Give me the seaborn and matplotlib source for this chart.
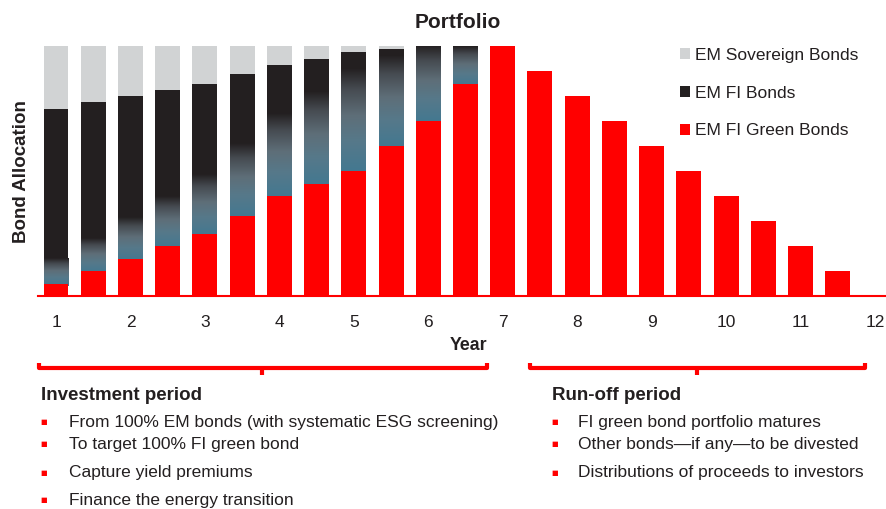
import numpy as np
import pandas as pd
import matplotlib
matplotlib.use("Agg")
import matplotlib.pyplot as plt
import seaborn as sns
from matplotlib.colors import LinearSegmentedColormap
from matplotlib.patches import Patch
from matplotlib.lines import Line2D

# ---------------- data ----------------
years = [1, 1.5, 2, 2.5, 3, 3.5, 4, 4.5, 5, 5.5, 6, 6.5,
         7, 7.5, 8, 8.5, 9, 9.5, 10, 10.5, 11, 11.5]
green = [5, 10, 15, 20, 25, 32, 40, 45, 50, 60, 70, 85,
         100, 90, 80, 70, 60, 50, 40, 30, 20, 10]
fi_bonds = [70, 67.5, 65, 62.5, 60, 57, 52.5, 50, 47.5, 39, 30, 15,
            0, 0, 0, 0, 0, 0, 0, 0, 0, 0]
sovereign = [25, 22.5, 20, 17.5, 15, 11, 7.5, 5, 2.5, 1, 0, 0,
             0, 0, 0, 0, 0, 0, 0, 0, 0, 0]
# level (in %) where the FI bond segment starts fading into the green colour
fade_start = [15, 23, 31.5, 39.5, 48.5, 61, 73, 82, 91, 96, 100, 100,
              0, 0, 0, 0, 0, 0, 0, 0, 0, 0]
xticks = [1, 2, 3, 4, 5, 6, 7, 8, 9, 10, 11, 12]
series_labels = ["EM Sovereign Bonds", "EM FI Bonds", "EM FI Green Bonds"]
invest_items = ["From 100% EM bonds (with systematic ESG screening)",
                "To target 100% FI green bond",
                "Capture yield premiums",
                "Finance the energy transition"]
runoff_items = ["FI green bond portfolio matures",
                "Other bonds\u2014if any\u2014to be divested",
                "Distributions of proceeds to investors"]

# ---------------- style ----------------
sns.set_theme(style="white")
plt.rcParams["font.family"] = ["Liberation Sans", "DejaVu Sans"]
TXT = "#231f20"
GREY = "#d1d3d4"
DARK = "#231f20"
RED = "#ff0000"

W, H = 887, 509
fig = plt.figure(figsize=(W / 100, H / 100), dpi=100)
ax = fig.add_axes([38 / W, 1 - 296 / H, (887 - 38) / W, (296 - 46) / H])

df = pd.DataFrame({"year": years, "green": green, "sov": sovereign, "fi": fi_bonds,
                   "fade": fade_start})
df["fi_top"] = df["green"] + df["fi"]
df["total"] = df["fi_top"] + df["sov"]

bw = 0.67
sns.barplot(data=df, x="year", y="total", native_scale=True, width=bw,
            color=GREY, saturation=1, linewidth=0, ax=ax, zorder=1)
n0 = len(ax.patches)
sns.barplot(data=df, x="year", y="fi_top", native_scale=True, width=bw,
            color=DARK, saturation=1, linewidth=0, ax=ax, zorder=1)
dark_patches = ax.patches[n0:]
sns.barplot(data=df, x="year", y="green", native_scale=True, width=bw,
            color=RED, saturation=1, linewidth=0, ax=ax, zorder=3)

# gradient (fading FI bonds into green bonds)
cmap = LinearSegmentedColormap.from_list(
    "fade", [(0.0, "#427891"), (0.3, "#56798a"), (0.55, "#5e6e78"),
             (0.8, "#464b51"), (1.0, "#231f20")])
grad = np.linspace(0, 1, 256).reshape(-1, 1)
for p, g, f, fi in zip(dark_patches, green, fade_start, fi_bonds):
    if fi <= 0 or f <= g:
        continue
    x0 = p.get_x()
    x1 = x0 + p.get_width()
    ax.imshow(grad, cmap=cmap, aspect="auto", origin="lower",
              extent=(x0, x1, g - 1, f), interpolation="bilinear", zorder=2)

ax.set_xlim(1 - 18 / 74.45, 12 + 12 / 74.45)
ax.set_ylim(0, 100)
ax.set_xticks(xticks)
ax.set_xticklabels([str(t) for t in xticks])
ax.set_yticks([])
ax.set_xlabel("")
ax.set_ylabel("")
for s in ["top", "right", "left"]:
    ax.spines[s].set_visible(False)
ax.spines["bottom"].set_color(RED)
ax.spines["bottom"].set_linewidth(1.5)
ax.tick_params(axis="x", length=0, pad=14, labelsize=12.5, labelcolor=TXT)

# legend
handles = [Patch(facecolor=c, edgecolor="none") for c in (GREY, DARK, RED)]
leg = fig.legend(handles, series_labels, loc="upper left",
                 bbox_to_anchor=(680 / W, 1 - 48 / H), frameon=False,
                 fontsize=12.5, handlelength=0.6, handleheight=0.6,
                 handletextpad=0.25, labelspacing=1.3, borderpad=0,
                 borderaxespad=0)
for t in leg.get_texts():
    t.set_color(TXT)

def fx(x):
    return x / W

def fy(y):
    return 1 - y / H

fig.text(fx(458), fy(22), "Portfolio", ha="center", va="center",
         fontsize=15, fontweight="bold", color=TXT)
fig.text(fx(22), fy(172), "Bond Allocation", ha="center", va="center",
         rotation=90, fontsize=13.5, fontweight="bold", color=TXT)
fig.text(fx(469), fy(345), "Year", ha="center", va="center",
         fontsize=12.8, fontweight="bold", color=TXT)

# brackets
def bracket(x0, x1, xm):
    kw = dict(color=RED, lw=3, solid_capstyle="butt", transform=fig.transFigure)
    fig.add_artist(Line2D([fx(x0), fx(x0), fx(x1), fx(x1)],
                          [fy(363), fy(368), fy(368), fy(363)], **kw))
    fig.add_artist(Line2D([fx(xm), fx(xm)], [fy(368), fy(375)], **kw))

bracket(39, 487, 262)
bracket(530, 865, 697)

# text blocks
fig.text(fx(41), fy(396), "Investment period", ha="left", va="center",
         fontsize=13.5, fontweight="bold", color=TXT)
fig.text(fx(552), fy(396), "Run-off period", ha="left", va="center",
         fontsize=13.5, fontweight="bold", color=TXT)
for y, s in zip([422, 444, 473, 500], invest_items):
    fig.text(fx(44), fy(y), "\u25a0", ha="center", va="center", fontsize=5,
             color=RED, family="DejaVu Sans")
    fig.text(fx(69), fy(y), s, ha="left", va="center", fontsize=12.5, color=TXT)
for y, s in zip([422, 444, 473], runoff_items):
    fig.text(fx(555), fy(y), "\u25a0", ha="center", va="center", fontsize=5,
             color=RED, family="DejaVu Sans")
    fig.text(fx(578), fy(y), s, ha="left", va="center", fontsize=12.5, color=TXT)

fig.savefig("out.png", dpi=100)
